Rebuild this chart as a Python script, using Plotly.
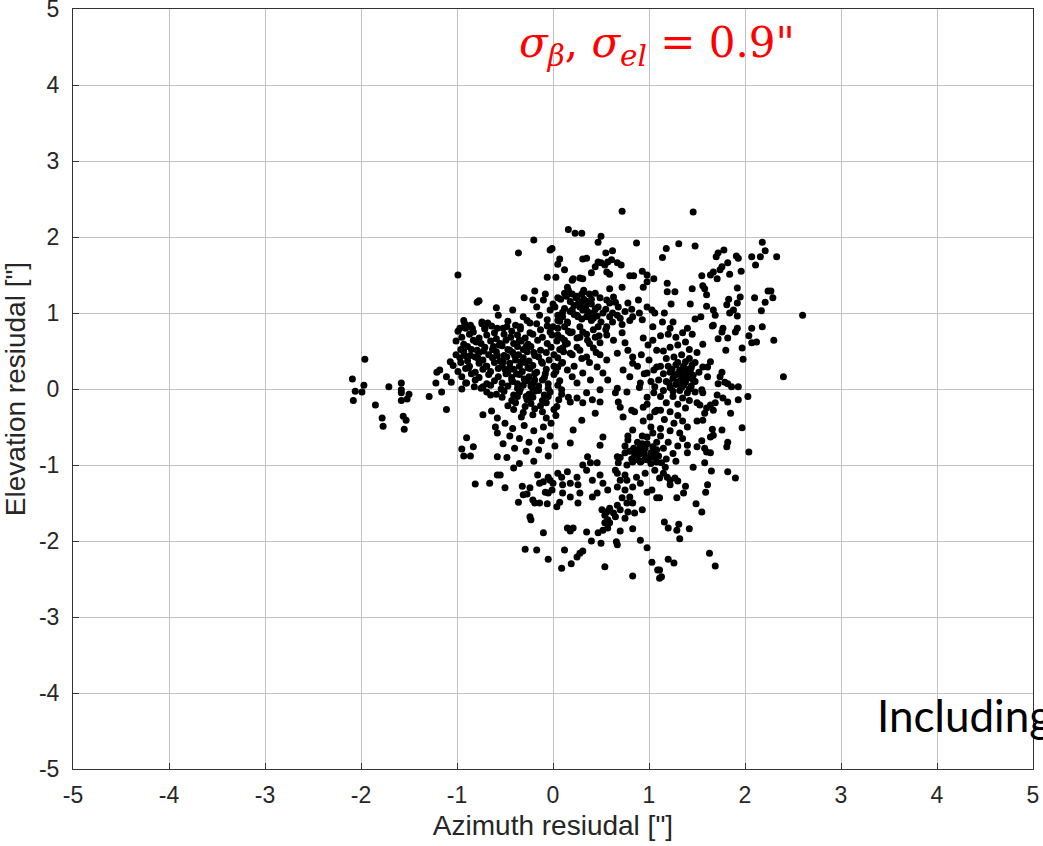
import plotly.graph_objects as go

# Residual points (azimuth ["], elevation ["]), grouped by region
left_tail = [(-2.09,0.13),(-2.06,-0.03),(-2.08,-0.15),(-1.96,0.39),(-1.97,0.05),(-1.99,-0.04),
    (-1.85,-0.21),(-1.78,-0.38),(-1.77,-0.49),(-1.71,0.03),(-1.58,0.08),(-1.58,-0.01),(-1.58,-0.05),
    (-1.50,-0.07),(-1.52,-0.13),(-1.58,-0.15),(-1.56,-0.36),(-1.53,-0.41),(-1.55,-0.53),(-1.29,-0.10),
    (-1.16,-0.04),(-1.11,-0.27),(-1.22,0.08),(-1.21,0.22),(-1.18,0.25),(-1.07,0.36),(-1.11,0.16),
    (-1.06,0.09),(-0.95,0.0),(-0.90,0.08),(-0.82,0.03),(-0.73,0.03),(-0.69,-0.04),(-0.65,-0.08),
    (-0.73,-0.34),(-0.64,-0.29),(-0.58,-0.38),(-0.60,-0.50),(-0.58,-0.58),(-0.90,-0.64),(-0.95,-0.79),
    (-0.83,-0.76),(-0.93,-0.88),(-0.86,-0.88),(-0.58,-0.89),(-0.81,-1.25),(-0.66,-1.24),(-0.58,-1.13),
    (-0.99,1.50),(-0.79,1.14),(-0.77,1.16),(-0.59,1.07),(-0.57,0.97),(-0.92,0.86),(-0.97,0.80),
    (-0.84,0.80),(-0.74,0.86),(-0.68,0.87),(-0.71,0.80),(-0.58,0.80)]

left_cluster = [
    (-0.93,0.90),(-0.86,0.84),(-0.74,0.88),(-0.64,0.83),(-0.47,0.89),(-0.39,0.84),(-0.27,0.90),(-0.17,0.86),(-0.06,0.83),(0.07,0.89),(0.12,0.82),
    (-0.99,0.76),(-0.91,0.80),(-0.83,0.75),(-0.71,0.79),(-0.61,0.74),(-0.52,0.80),(-0.43,0.76),(-0.34,0.79),(-0.24,0.74),(-0.13,0.78),(-0.03,0.75),(0.05,0.80),(0.16,0.76),
    (-0.95,0.68),(-0.87,0.72),(-0.77,0.67),(-0.69,0.71),(-0.59,0.66),(-0.51,0.72),(-0.44,0.68),(-0.37,0.71),(-0.29,0.67),(-0.21,0.72),(-0.11,0.68),(-0.01,0.71),(0.09,0.67),
    (-1.01,0.63),(-0.93,0.59),(-0.83,0.64),(-0.75,0.60),(-0.65,0.63),(-0.56,0.58),(-0.49,0.64),(-0.41,0.60),(-0.33,0.63),(-0.26,0.59),(-0.16,0.64),(-0.06,0.60),(0.04,0.63),(0.13,0.59),
    (-0.96,0.52),(-0.89,0.56),(-0.79,0.51),(-0.71,0.55),(-0.63,0.52),(-0.53,0.57),(-0.45,0.51),(-0.37,0.56),(-0.31,0.52),(-0.23,0.56),(-0.13,0.51),(-0.02,0.55),(0.07,0.52),
    (-1.01,0.45),(-0.93,0.49),(-0.86,0.44),(-0.77,0.48),(-0.67,0.45),(-0.59,0.49),(-0.51,0.44),(-0.42,0.48),(-0.36,0.45),(-0.27,0.49),(-0.19,0.44),(-0.07,0.48),(0.01,0.45),(0.11,0.49),
    (-0.97,0.41),(-0.89,0.37),(-0.81,0.42),(-0.73,0.38),(-0.63,0.41),(-0.55,0.37),(-0.48,0.42),(-0.39,0.38),(-0.31,0.41),(-0.25,0.37),(-0.15,0.42),(-0.04,0.38),(0.05,0.41),
    (-1.04,0.31),(-0.96,0.35),(-0.87,0.30),(-0.77,0.34),(-0.69,0.30),(-0.61,0.35),(-0.53,0.31),(-0.45,0.34),(-0.35,0.30),(-0.29,0.35),(-0.21,0.31),(-0.11,0.34),(0.01,0.30),(0.09,0.34),
    (-0.99,0.23),(-0.91,0.27),(-0.81,0.22),(-0.73,0.26),(-0.65,0.23),(-0.57,0.27),(-0.47,0.22),(-0.41,0.26),(-0.32,0.23),(-0.24,0.27),(-0.17,0.22),(-0.07,0.26),(0.03,0.23),
    (-0.95,0.16),(-0.85,0.20),(-0.77,0.15),(-0.67,0.19),(-0.57,0.16),(-0.49,0.20),(-0.43,0.15),(-0.35,0.19),(-0.25,0.16),(-0.19,0.20),(-0.09,0.15),(0.01,0.19),
    (-0.91,0.08),(-0.81,0.12),(-0.69,0.07),(-0.61,0.11),(-0.53,0.08),(-0.43,0.12),(-0.37,0.07),(-0.27,0.11),(-0.21,0.08),(-0.11,0.12),(-0.05,0.07),(0.07,0.11),
    (-0.75,0.01),(-0.65,0.05),(-0.54,0.00),(-0.47,0.04),(-0.37,0.01),(-0.31,0.05),(-0.21,0.00),(-0.15,0.04),(-0.05,0.01),(0.05,0.05),
    (-0.59,-0.07),(-0.51,-0.03),(-0.41,-0.08),(-0.35,-0.04),(-0.25,-0.07),(-0.19,-0.03),(-0.09,-0.08),(-0.03,-0.04),(0.09,-0.07),
    (-0.53,-0.11),(-0.43,-0.15),(-0.37,-0.10),(-0.27,-0.14),(-0.21,-0.11),(-0.11,-0.15),(-0.05,-0.10),(0.06,-0.14),
    (-0.47,-0.22),(-0.39,-0.18),(-0.29,-0.23),(-0.23,-0.19),(-0.13,-0.22),(-0.07,-0.18),(0.04,-0.23),
    (-0.41,-0.27),(-0.31,-0.31),(-0.19,-0.26),(-0.11,-0.30),(0.01,-0.27),
    (-0.33,-0.37),(-0.21,-0.34),(-0.07,-0.38),(0.03,-0.35),
    (-0.55,0.60),(-0.47,0.52),(-0.40,0.44),(-0.33,0.36),(-0.26,0.28),(-0.19,0.12),(-0.52,0.36),(-0.45,0.28),(-0.38,0.20),
    (-0.30,0.13),(-0.23,0.04),(-0.58,0.44),(-0.50,0.26),(-0.42,0.10),(-0.34,0.00),(-0.28,-0.10),(-0.15,-0.02),(-0.62,0.56),
    (-0.35,0.64),(-0.28,0.56),(-0.20,0.48),(-0.12,0.36),(-0.08,0.20),(-0.85,0.52),(-0.78,0.40),(-0.92,0.44),(-0.70,0.30),
    (-0.88,0.28),(-0.80,0.62),(-0.72,0.50),
    (-0.50,-0.45),(-0.42,-0.52),(-0.30,-0.48),(-0.20,-0.55),(-0.10,-0.50),(-0.02,-0.45),(-0.45,-0.62),(-0.35,-0.65),
    (-0.25,-0.70),(-0.12,-0.68),(-0.03,-0.62),(-0.40,-0.78),(-0.28,-0.82),(-0.15,-0.80),(-0.05,-0.88),(-0.48,-0.90),
    (-0.20,-0.95),(-0.35,-0.98),(0.02,-0.75),(-0.52,-0.72)]

upper_cluster = [(0.72,2.34),(0.16,2.10),(0.23,2.05),(0.30,2.05),(-0.20,1.96),(-0.36,1.79),(-0.03,1.83),(-0.01,1.85),
    (0.50,2.01),(0.47,1.93),(0.87,1.92),(0.55,1.79),(0.62,1.82),(0.07,1.71),(0.05,1.64),(0.12,1.57),(0.31,1.71),(0.35,1.72),
    (0.47,1.67),(0.50,1.66),(0.54,1.63),(0.57,1.67),(0.61,1.70),(0.67,1.66),(0.71,1.63),(0.44,1.61),(0.40,1.53),(0.56,1.54),
    (0.59,1.51),(-0.06,1.47),(0.03,1.47),(0.20,1.43),(0.21,1.45),(0.28,1.46),(0.31,1.45),(0.15,1.34),(0.16,1.30),(0.12,1.26),
    (-0.19,1.29),(-0.30,1.20),(-0.08,1.25),(0.80,1.49),(0.84,1.49),(0.93,1.55),(0.98,1.50),(1.05,1.45),(0.98,1.41),(0.94,1.34),
    (0.72,1.34),(0.59,1.32),(0.44,1.26),(0.24,1.20),(0.30,1.25),(0.36,1.15),(0.26,1.12),(0.32,1.28),(0.40,1.18),
    (0.49,1.20),(0.56,1.17),(0.59,1.13),(0.65,1.14),(0.63,1.21),(0.78,1.13),(0.89,1.17),(0.98,1.08),(1.03,1.04),(1.06,1.00),
    (-0.42,1.04),(-0.31,0.95),(-0.21,1.17),(-0.17,1.08),(-0.10,1.17),(-0.03,1.04),(0.02,1.08),(0.05,0.97),(0.10,1.01),
    (-0.14,0.97),(-0.06,0.91),(-0.24,0.87),(-0.34,0.82),(-0.48,0.82),(0.00,0.82),(0.15,0.87),(0.20,1.04),(0.25,0.97),
    (0.31,1.04),(0.35,0.95),(0.42,0.93),(0.47,1.08),(0.52,1.00),(0.59,0.95),(0.67,0.97),(0.70,0.93),(0.83,0.95),(0.93,0.91),
    (1.04,0.82),(0.47,0.82),(0.56,0.82),(0.28,0.82),
    (0.00,1.12),(0.08,1.18),(0.18,1.15),(0.25,1.22),(0.32,1.18),(0.40,1.12),(0.28,1.08),(0.36,1.02),(0.44,1.05),(0.12,1.06),
    (0.22,0.98),(0.30,0.92),(0.40,0.90),(0.50,0.88),(0.62,0.88),(0.72,0.85),(0.80,0.90),(0.75,1.02),(0.68,1.08),(0.82,1.05),
    (0.90,1.00),(0.05,0.90),(0.15,0.88),(0.32,1.30),(0.38,1.25),(0.20,1.25),
    (0.05,1.20),(0.14,1.22),(0.22,1.10),(0.30,1.15),(0.34,1.08),(0.42,1.00),(0.18,1.02),(0.26,0.95),(0.10,0.95),(0.36,0.96),
    (0.46,0.96),(0.55,1.05),(0.62,1.00)]

upper_right = [(1.46,2.33),(1.31,1.91),(1.18,1.85),(1.14,1.73),(1.48,1.88),(2.18,1.93),(2.21,1.82),(2.07,1.74),(2.16,1.74),
    (2.33,1.74),(2.11,1.63),(1.78,1.83),(1.72,1.79),(1.70,1.74),(1.91,1.75),(1.93,1.72),(1.82,1.66),(1.76,1.61),(1.74,1.57),
    (1.67,1.54),(1.64,1.50),(1.71,1.45),(1.84,1.51),(1.96,1.55),(1.55,1.49),(1.19,1.39),(1.19,1.28),(1.27,1.28),(1.45,1.32),
    (1.56,1.36),(1.58,1.32),(1.60,1.24),(1.92,1.33),(1.83,1.18),(1.95,1.21),(1.92,1.13),(1.81,1.11),(1.88,1.04),(1.84,1.00),
    (1.92,0.96),(2.10,1.20),(2.24,1.29),(2.27,1.29),(2.29,1.20),(2.21,1.14),(2.17,1.03),(2.60,0.97),(1.23,1.12),(1.43,1.12),
    (1.60,1.09),(1.67,1.04),(1.69,0.97),(1.16,1.00),(1.48,0.92),(1.54,0.95),(1.25,0.88),(1.14,0.88),(1.67,0.84),(1.66,0.83),
    (1.40,0.80),(1.22,0.80),(1.77,0.80),(1.92,0.80),(2.07,0.80),(2.18,0.82)]

center_mid = [(0.05,0.71),(0.12,0.64),(0.18,0.74),(0.25,0.67),(0.31,0.75),(0.36,0.64),(0.44,0.68),(0.49,0.61),(0.56,0.71),
    (0.63,0.64),(0.72,0.74),(0.75,0.61),(0.10,0.54),(0.18,0.47),(0.28,0.51),(0.35,0.42),(0.42,0.54),(0.49,0.45),(0.56,0.38),
    (0.67,0.47),(0.78,0.51),(0.83,0.42),(0.94,0.67),(0.99,0.58),(1.04,0.64),(1.08,0.51),
    (0.05,0.29),(0.15,0.25),(0.20,0.16),(0.25,0.08),(0.31,0.21),(0.39,0.12),(0.46,0.29),(0.52,0.21),(0.57,0.12),(0.67,0.01),
    (0.73,0.25),(0.80,0.16),(0.83,0.34),(0.91,0.08),(0.98,0.21),(1.06,0.03),(1.08,0.29),(0.09,-0.01),(0.16,-0.11),(0.35,-0.05),
    (0.49,-0.01),(0.65,-0.05),(0.77,-0.04),
    (0.18,-0.17),(0.25,-0.12),(0.31,-0.18),(0.41,-0.14),(0.49,-0.17),(0.44,-0.32),(0.30,-0.41),(0.21,-0.54),(0.18,-0.71),
    (0.36,-0.89),(0.52,-0.63),(0.49,-0.74),(0.68,-0.17),(0.73,-0.37),(0.70,-0.24),(0.82,-0.28),(0.98,-0.11),(0.94,-0.24),
    (1.01,-0.37),(1.08,-0.28),(0.78,-0.67),(0.83,-0.54),(0.91,-0.76),(0.98,-0.63),(1.04,-0.58),(1.08,-0.80),(0.75,-0.84),(0.67,-0.89),
    (0.20,0.75),(0.28,0.68),(0.35,0.72),(0.42,0.78),(0.15,0.60),(0.25,0.55),(0.38,0.60),(0.48,0.70),(0.55,0.78),(0.20,0.45),
    (0.30,0.40),(0.45,0.48),(0.10,0.35),(0.22,0.30),(0.38,0.35),
    (0.92,0.45),(1.00,0.38),(1.05,0.25),(0.95,0.20),(1.02,0.10),(0.90,0.02),(1.05,-0.05),(0.98,-0.20),(1.06,-0.30),(0.94,-0.42),
    (1.02,-0.50),(0.88,0.30),(0.85,-0.30)]

right_cluster = [(2.04,0.70),(2.07,0.61),(2.12,0.62),(2.30,0.64),(2.40,0.16),(2.03,-0.10),(1.97,-0.51),(2.04,-0.83),
    (1.97,0.54),(1.98,0.39),(1.80,0.51),(1.72,0.66),(1.82,0.67),(1.76,0.75),(1.90,0.75),(1.56,0.59),(1.64,0.36),(1.61,0.29),
    (1.56,0.29),(1.76,0.22),(1.74,0.16),(1.72,0.07),(1.79,0.09),(1.82,0.07),(1.86,0.03),(1.93,0.03),(1.61,0.16),(1.55,-0.01),
    (1.56,-0.05),(1.71,-0.08),(1.77,-0.12),(1.82,-0.17),(1.93,-0.14),(1.69,-0.18),(1.64,-0.21),(1.67,-0.28),(1.60,-0.25),
    (1.53,-0.21),(1.50,-0.18),(1.58,-0.32),(1.85,-0.32),(1.56,-0.41),(1.50,-0.42),(1.76,-0.54),(1.66,-0.53),(1.67,-0.61),
    (1.64,-0.63),(1.55,-0.68),(1.82,-0.70),(1.81,-0.76),(1.58,-0.78),(1.60,-0.83),(1.64,-0.84),(1.50,-0.76),(1.40,-0.74),(1.40,-0.84),
    (1.12,0.70),(1.20,0.72),(1.28,0.68),(1.35,0.74),(1.45,0.72),(1.38,0.62),(1.30,0.58),(1.22,0.55),(1.15,0.50),(1.42,0.52),
    (1.50,0.48),(1.18,0.40),(1.26,0.42),(1.34,0.45),(1.42,0.40),(1.48,0.35),(1.12,0.30),(1.20,0.30),(1.28,0.32),(1.36,0.30),
    (1.44,0.28),(1.52,0.22),(1.15,0.20),(1.22,0.22),(1.30,0.20),(1.38,0.22),(1.46,0.18),(1.25,0.14),(1.33,0.12),(1.40,0.14),
    (1.48,0.10),(1.18,0.10),(1.10,0.12),(1.28,0.06),(1.36,0.05),(1.44,0.04),(1.22,0.02),(1.15,-0.02),(1.32,-0.02),(1.40,-0.05),
    (1.48,-0.04),(1.12,-0.10),(1.25,-0.10),(1.35,-0.12),(1.42,-0.15),(1.18,-0.18),(1.30,-0.20),(1.38,-0.25),(1.12,-0.28),
    (1.22,-0.30),(1.30,-0.35),(1.16,-0.40),(1.26,-0.45),(1.35,-0.42),(1.12,-0.52),(1.22,-0.55),(1.32,-0.58),(1.40,-0.50),
    (1.24,0.26),(1.32,0.25),(1.40,0.26),(1.27,0.18),(1.35,0.17),(1.43,0.22),(1.21,0.08),(1.30,0.09),(1.38,0.09),(1.46,0.12),
    (1.25,-0.03),(1.34,0.02),(1.42,0.00),(1.30,0.35),(1.38,0.36),(1.45,0.32)]

lower_cluster = [(-0.41,-1.04),(-0.50,-1.30),(-0.55,-1.13),(-0.32,-1.28),(-0.31,-1.39),(-0.24,-1.30),(-0.27,-1.38),
    (-0.36,-1.49),(-0.21,-1.46),(-0.19,-1.50),(-0.14,-1.50),(-0.06,-1.51),(-0.16,-1.13),(-0.10,-1.22),(-0.14,-1.24),
    (-0.05,-1.16),(-0.03,-1.20),(0.00,-1.24),(-0.01,-1.33),(-0.08,-1.36),(-0.05,-1.37),(-0.24,-1.68),(-0.23,-1.72),
    (-0.10,-1.89),(-0.29,-2.11),(-0.17,-2.12),(-0.05,-2.24),(0.09,-2.36),(0.12,-2.12),(0.19,-2.30),(0.25,-2.21),(0.28,-2.16),
    (0.31,-2.13),(0.40,-2.00),(0.35,-1.88),(0.15,-1.83),(0.18,-1.87),(0.21,-1.83),(0.50,-2.03),(0.47,-1.89),(0.52,-1.86),
    (0.57,-1.83),(0.59,-1.76),(0.56,-1.76),(0.66,-2.01),(0.67,-2.05),(0.54,-2.34),(0.70,-1.87),(0.83,-1.84),(0.91,-1.99),
    (0.98,-2.09),(1.03,-2.28),(1.09,-2.38),(1.11,-2.49),(0.83,-2.46),
    (0.51,-1.59),(0.54,-1.66),(0.56,-1.62),(0.59,-1.57),(0.63,-1.63),(0.67,-1.53),(0.65,-1.68),(0.70,-1.59),(0.77,-1.50),
    (0.78,-1.62),(0.83,-1.50),(0.85,-1.63),(0.75,-1.70),(0.57,-1.72),(0.54,-1.76),(0.93,-1.59),
    (0.05,-1.11),(0.09,-1.16),(0.15,-1.09),(0.18,-1.24),(0.10,-1.26),(0.25,-1.16),(0.26,-1.26),(0.31,-1.00),(0.39,-0.97),
    (0.46,-0.97),(0.35,-1.07),(0.41,-1.20),(0.49,-1.13),(0.52,-1.24),(0.57,-1.33),(0.46,-1.37),(0.65,-1.07),(0.68,-0.97),
    (0.77,-1.00),(0.75,-1.13),(0.70,-1.20),(0.67,-1.29),(0.75,-1.33),(0.80,-1.42),(0.72,-1.43),(0.83,-1.29),(0.87,-1.16),
    (0.91,-1.24),(0.96,-1.11),(0.98,-1.36),(1.03,-1.33),(1.06,-1.07),(1.08,-1.43),(0.10,-1.37),(0.18,-1.42),(0.07,-1.49),
    (0.26,-1.50),(0.28,-1.37),(0.41,-1.42),(0.04,-1.55),(0.83,-0.96),(0.91,-0.96),(0.98,-0.93),(1.08,-0.96),(0.67,-1.11),(0.77,-1.20),
    (1.46,-1.03),(1.58,-0.97),(1.65,-1.08),(1.82,-1.09),(1.90,-1.17),(1.61,-1.26),(1.59,-1.36),(1.38,-1.28),(1.36,-1.37),
    (1.29,-1.43),(1.49,-1.51),(1.55,-1.62),(1.11,-1.43),(1.16,-1.75),(1.20,-1.83),(1.29,-1.86),(1.31,-1.78),(1.42,-1.84),
    (1.32,-1.97),(1.63,-2.16),(1.69,-2.33),(1.20,-2.24),(1.26,-2.29),(1.11,-2.38),(1.13,-2.47),
    (1.13,-0.97),(1.17,-1.03),(1.15,-1.11),(1.19,-1.16),(1.22,-1.20),(1.27,-1.17),(1.30,-1.21),(1.22,-1.26),(1.11,-1.17),
    (0.75,-0.75),(0.80,-0.82),(0.85,-0.88),(0.90,-0.80),(0.95,-0.85),(1.00,-0.90),(1.05,-0.82),(0.88,-0.70),(0.98,-0.72),
    (1.08,-0.70),(0.82,-0.92),(0.92,-0.95),(1.02,-0.98),(0.70,-0.90),(0.78,-0.62),(0.93,-0.62),(1.10,-0.88),(1.12,-0.62),
    (1.15,-0.78),(1.20,-0.70),(1.25,-0.85),(1.30,-0.75),(1.35,-0.65),(1.18,-0.92),(1.28,-0.95),
    (0.84,-0.78),(0.90,-0.86),(0.96,-0.78),(1.02,-0.84),(0.88,-0.93),(0.96,-0.92),(1.06,-0.90),(0.93,-0.72),(1.04,-0.76),(0.86,-0.83)]

groups = [left_tail, left_cluster, upper_cluster, upper_right, center_mid, right_cluster, lower_cluster]
az = [p[0] for g in groups for p in g]
el = [p[1] for g in groups for p in g]

tick_vals = [-5, -4, -3, -2, -1, 0, 1, 2, 3, 4, 5]
tick_text = ["-5", "-4", "-3", "-2", "-1", "0", "1", "2", "3", "4", "5"]

fig = go.Figure()
fig.add_trace(go.Scatter(x=az, y=el, mode="markers",
                         marker=dict(color="black", size=7, line=dict(width=0)),
                         showlegend=False, hoverinfo="skip", cliponaxis=False))

label_font = dict(family="Liberation Sans, Arial, sans-serif", size=23, color="#262626")
axis_common = dict(range=[-5, 5], tickvals=tick_vals, ticktext=tick_text, showgrid=True,
                   gridcolor="#c2c2c2", gridwidth=1, zeroline=False, showline=True,
                   linecolor="#333333", linewidth=1, mirror=True, ticks="inside", ticklen=6,
                   tickcolor="#333333", tickfont=label_font, automargin=False,
                   ticklabeloverflow="allow")

title_font = dict(family="Liberation Sans, Arial, sans-serif", size=28, color="#262626")
fig.update_xaxes(**axis_common, ticklabelstandoff=5,
                 title=dict(text='Azimuth resiudal ["]', standoff=8, font=title_font))
fig.update_yaxes(**axis_common, ticklabelstandoff=8,
                 title=dict(text='Elevation resiudal ["]', standoff=6, font=title_font))

fig.add_annotation(x=1.08, y=4.52, xref="x", yref="y", showarrow=False,
                   text='<i>σ</i><sub><i>β</i></sub>, <i>σ</i><sub><i>el</i></sub> = 0.9"',
                   font=dict(family="DejaVu Serif, Liberation Serif, serif", size=42, color="#ff0000"))
fig.add_annotation(x=3.35, y=-4.29, xref="x", yref="y", xanchor="left", showarrow=False,
                   text="Including", font=dict(family="Lato, Open Sans, sans-serif", size=44, color="black"))

fig.update_layout(width=1043, height=846, plot_bgcolor="white", paper_bgcolor="white",
                  margin=dict(l=73, r=10, t=9, b=77, autoexpand=False))

fig.write_html("out.html", config={"displayModeBar": False},
               post_script="document.body.style.margin='0';")
